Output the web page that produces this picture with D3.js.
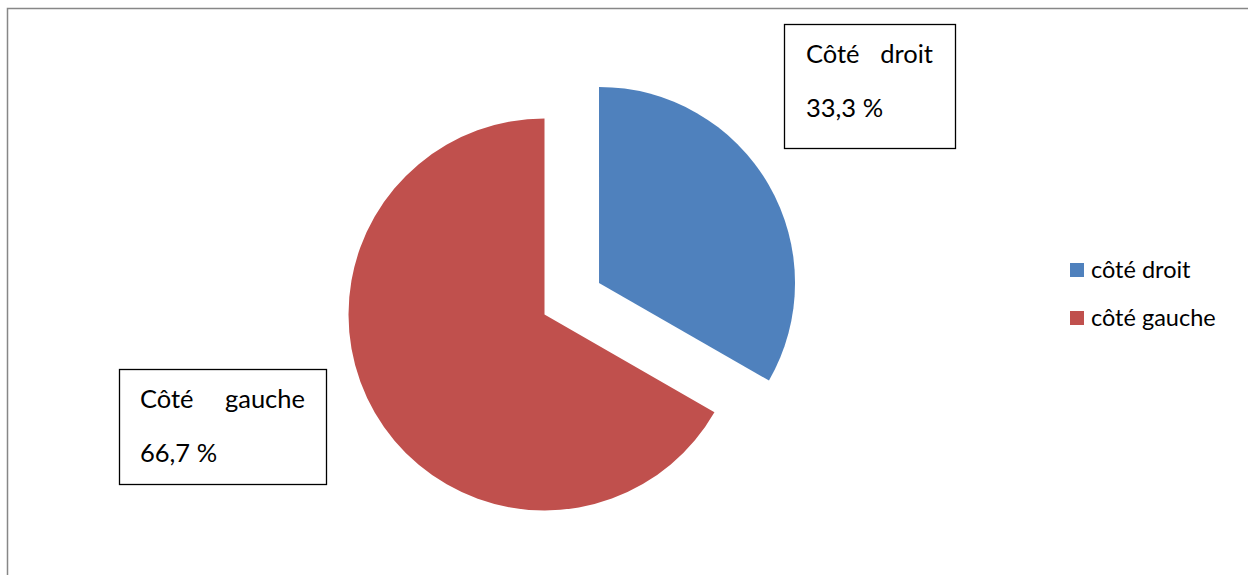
<!DOCTYPE html>
<html>
<head>
<meta charset="utf-8">
<script src="https://cdn.jsdelivr.net/npm/d3@7"></script>
<style>
  html, body { margin: 0; padding: 0; background: #fff; }
  svg { display: block; }
  text { font-family: Lato, "Open Sans", sans-serif; fill: #000; }
</style>
</head>
<body>
<svg id="chart" width="1248" height="575"></svg>
<script>
// Répartition selon le côté
const categories = ["côté droit", "côté gauche"];
const values = [33.3, 66.7];
const labelTitles = [["Côté", "droit"], ["Côté", "gauche"]];
const labelValues = ["33,3 %", "66,7 %"];
const colors = ["#4F81BD", "#C0504D"];

const svg = d3.select("#chart");
const W = 1248, H = 575;

// Chart area frame (top and left edges visible)
svg.append("path")
  .attr("d", `M7.5,${H} V8.5 H${W}`)
  .attr("fill", "none")
  .attr("stroke", "#878787")
  .attr("stroke-width", 1.5);

const cx = 544.5, cy = 314.5, radius = 196, explode = 63;

const pie = d3.pie().sort(null).value(d => d);
const arcs = pie(values);
const arc = d3.arc().innerRadius(0).outerRadius(radius);

const g = svg.append("g").attr("transform", `translate(${cx},${cy})`);

g.selectAll("path.slice")
  .data(arcs)
  .join("path")
  .attr("class", "slice")
  .attr("fill", (d, i) => colors[i])
  .attr("transform", (d, i) => {
    if (i !== 0) return null;
    const mid = (d.startAngle + d.endAngle) / 2;
    return `translate(${Math.sin(mid) * explode},${-Math.cos(mid) * explode})`;
  })
  .attr("d", arc);

// Data label boxes
const boxes = [
  { x: 784.5, y: 24.5, w: 171, h: 124, tx: 806, right: 933, b1: 63, b2: 117 },
  { x: 119.5, y: 369.5, w: 207, h: 115, tx: 140, right: 305, b1: 408, b2: 462 }
];

boxes.forEach((b, i) => {
  const bg = svg.append("g");
  bg.append("rect")
    .attr("x", b.x).attr("y", b.y)
    .attr("width", b.w).attr("height", b.h)
    .attr("fill", "#fff")
    .attr("stroke", "#000")
    .attr("stroke-width", 1.3);
  bg.append("text").attr("x", b.tx).attr("y", b.b1)
    .attr("font-size", 25.5).text(labelTitles[i][0]);
  bg.append("text").attr("x", b.right).attr("y", b.b1)
    .attr("text-anchor", "end")
    .attr("font-size", 25.5).text(labelTitles[i][1]);
  bg.append("text").attr("x", b.tx).attr("y", b.b2)
    .attr("font-size", 25.5).text(labelValues[i]);
});

// Legend
const legend = svg.append("g").attr("transform", "translate(1070,263)");
const item = legend.selectAll("g")
  .data(categories)
  .join("g")
  .attr("transform", (d, i) => `translate(0,${i * 48})`);
item.append("rect")
  .attr("width", 14).attr("height", 14)
  .attr("fill", (d, i) => colors[i]);
item.append("text")
  .attr("x", 21).attr("y", 15)
  .attr("font-size", 23.5)
  .text(d => d);
</script>
</body>
</html>
